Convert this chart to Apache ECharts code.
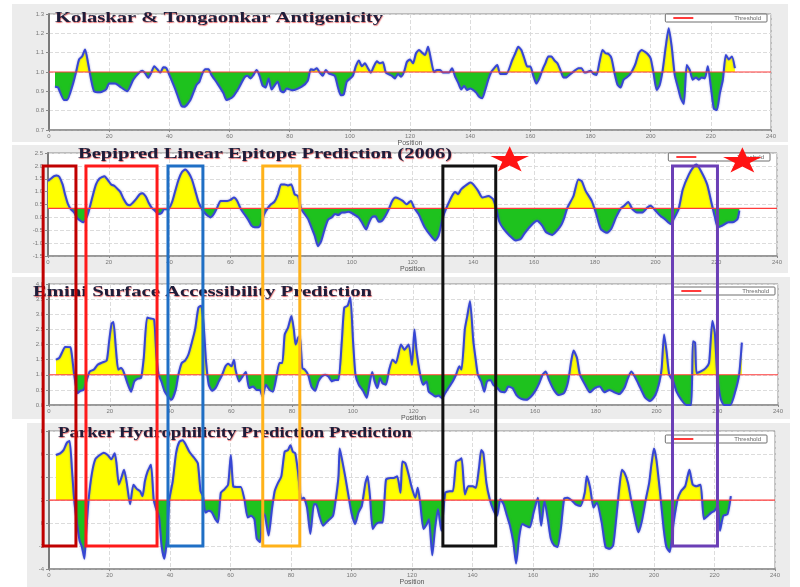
<!DOCTYPE html>
<html lang="en">
<head>
    <meta charset="UTF-8">
    <title>Epitope prediction profiles</title>
    <script src="https://cdn.jsdelivr.net/npm/echarts@6/dist/echarts.min.js"></script>
    <style>
        html, body { margin: 0; padding: 0; background: #fff; }
        #main { width: 800px; height: 587px; }
    </style>
</head>
<body>
<div id="main"></div>
<script>
    // values, [position, score]
    var kolaskarPoints = [[2,0.924],[3,0.92],[5,0.855],[6,0.855],[8,0.94],[9,1.0],[10,1.065],[11,1.08],[12,1.117],[13,1.045],[14,0.96],[15,0.9],[17,0.895],[19,0.91],[20,0.94],[22,0.94],[24,0.92],[26,0.9],[28,0.96],[30,0.997],[31,1.007],[32,0.993],[33,0.97],[34,0.997],[35,1.03],[36,1.014],[37,0.997],[38,1.024],[39,1.02],[40,0.985],[42,0.91],[44,0.825],[45,0.82],[47,0.855],[49,0.933],[50,0.95],[51,0.993],[52,1.014],[53,1.014],[54,0.985],[56,0.94],[58,0.89],[59,0.855],[61,0.87],[63,0.915],[65,0.972],[66,0.98],[67,0.967],[68,0.985],[69,1.01],[70,0.98],[71,0.93],[72,0.92],[73,0.967],[74,0.91],[76,0.95],[77,0.903],[78,0.895],[79,0.915],[81,0.905],[84,0.924],[86,0.955],[87,1.014],[88,1.01],[89,1.02],[90,0.997],[91,0.98],[92,1.01],[93,0.993],[95,0.98],[96,0.924],[97,0.88],[98,0.885],[99,0.95],[101,0.98],[102,1.03],[103,1.06],[104,1.03],[105,1.045],[106,1.02],[107,0.997],[108,1.03],[109,1.055],[110,1.045],[111,1.05],[112,0.997],[114,0.98],[115,0.967],[116,0.99],[117,0.975],[118,1.0],[119,1.053],[120,1.065],[121,1.045],[122,1.097],[123,1.114],[124,1.1],[125,1.088],[126,1.13],[127,1.062],[128,1.0],[129,1.01],[130,1.01],[131,0.997],[133,0.997],[134,1.02],[135,0.976],[136,0.945],[137,0.91],[138,0.927],[139,0.907],[140,0.915],[141,0.907],[142,0.893],[143,0.872],[144,0.864],[145,0.907],[146,0.96],[147,1.0],[148,1.02],[149,1.036],[150,0.99],[152,0.99],[154,1.062],[155,1.097],[156,1.13],[157,1.114],[158,1.07],[159,1.028],[160,1.028],[161,0.98],[162,0.94],[163,0.967],[164,1.01],[165,1.045],[166,1.08],[167,1.08],[168,1.06],[169,1.045],[170,1.01],[171,0.972],[172,0.972],[173,0.985],[174,0.997],[175,1.01],[176,1.02],[177,1.02],[178,0.997],[179,1.0],[180,1.007],[181,0.99],[182,0.985],[183,1.053],[184,1.114],[185,1.097],[186,1.093],[187,1.07],[188,0.993],[189,0.933],[190,0.92],[191,0.96],[192,0.972],[193,0.985],[194,1.01],[195,1.045],[196,1.097],[197,1.114],[198,1.105],[199,1.093],[200,1.07],[201,0.99],[202,0.907],[203,0.933],[204,1.01],[205,1.13],[206,1.226],[207,1.13],[208,0.985],[209,0.924],[210,0.864],[211,0.834],[212,1.036],[213,1.01],[214,0.96],[215,0.972],[216,0.96],[217,0.972],[218,0.967],[219,1.03],[220,0.924],[221,0.81],[222,0.803],[223,0.89],[224,0.96],[225,1.088],[226,1.065],[227,1.08],[228,1.02]];

    var bepipredPoints = [[0,1.41],[0.9,1.5],[2.0,1.6],[2.8,1.63],[3.7,1.58],[4.8,1.28],[5.6,0.9],[6.6,0.51],[7.5,0.32],[8.6,0.19],[9.7,-0.04],[10.9,-0.15],[11.6,-0.19],[12.7,0],[13.6,0.32],[14.7,0.83],[15.8,1.28],[16.9,1.5],[18.6,1.6],[19.7,1.45],[20.8,1.28],[21.9,1.22],[23.0,1.09],[23.8,0.99],[24.9,0.71],[26.0,0.51],[26.9,0.47],[28.0,0.58],[29.1,0.73],[30.2,0.9],[31.1,0.94],[32.2,0.81],[33.1,0.58],[34.1,0.38],[35.2,0.26],[36.3,0.13],[37.4,0.17],[38.2,0.32],[39.6,0.32],[40.8,0.58],[41.9,1.03],[43.0,1.47],[44.1,1.76],[45.2,1.86],[46.3,1.73],[47.4,1.47],[48.5,1.03],[49.6,0.58],[50.7,0.32],[51.5,0.19],[52.6,0.06],[53.5,0],[54.6,0.13],[55.7,0.38],[56.8,0.64],[57.9,0.64],[59.0,0.64],[60.1,0.68],[61.2,0.77],[62.3,0.64],[63.5,0.32],[64.6,0.13],[65.9,-0.09],[67.0,-0.32],[68.1,-0.38],[69.2,-0.38],[70.1,-0.26],[71.2,0.13],[72.3,0.35],[73.4,0.51],[74.5,0.6],[75.6,0.86],[76.7,1.28],[77.9,1.28],[79.0,1.24],[80.1,1.28],[81.2,0.9],[82.3,0.83],[83.4,0.32],[84.5,0.13],[85.6,-0.06],[86.7,-0.38],[87.8,-0.71],[88.9,-1.12],[90.0,-0.9],[91.1,-0.45],[92.2,-0.09],[93.4,0],[94.5,0.13],[95.6,0.09],[96.7,0.19],[97.8,0.19],[98.9,0.22],[100.0,0.17],[101.1,0.09],[102.2,0],[103.3,-0.19],[104.7,-0.47],[105.5,-0.26],[106.6,0],[107.8,0.04],[108.9,-0.17],[110.0,-0.13],[111.1,0.06],[112.2,0.32],[113.3,0.64],[114.4,0.77],[115.5,0.73],[116.8,0.64],[118,0.51],[119,0.6],[119.5,0.64],[120.5,0.38],[122,0.13],[123,-0.13],[124,-0.38],[126,-0.71],[127.5,-0.9],[128.6,-0.71],[130,0],[131,0.32],[133,0.83],[134,0.99],[135,0.9],[136,1.09],[138,1.28],[139,1.35],[140,1.28],[141.6,1.03],[143,0.77],[145,0.83],[146.5,0.71],[147.6,0.32],[148.6,-0.17],[150,-0.45],[152,-0.71],[154,-0.9],[155.7,-0.83],[157,-0.6],[159.5,-0.26],[161,-0.13],[162.7,-0.32],[164,-0.58],[166,-0.68],[167.6,-0.51],[169,-0.29],[170,0],[171,0.38],[173,0.83],[174.6,1.47],[175.7,1.41],[177,1.03],[179,0.64],[180.5,0.13],[182,-0.45],[184,-0.6],[185.4,-0.45],[187,0],[188.6,0.35],[189.7,0.45],[191,0.6],[192.4,0.32],[194,0.19],[195.7,0.19],[197.3,0.38],[198.4,0.45],[200,0.26],[201.6,0.06],[203,-0.06],[205,-0.26],[206,-0.06],[207.6,0.32],[209,1.09],[211,1.67],[212.7,1.99],[213.5,2.05],[215,1.79],[217,1.28],[218.4,0.58],[219.5,0.04],[220.5,-0.38],[222,-0.32],[224,-0.19],[225.4,-0.19],[227,-0.06],[227.6,0.26]];

    var eminiPoints = [[2.3,1.5],[3.4,1.56],[4.5,1.78],[5.3,1.92],[7,1.91],[7.5,1.67],[8.3,1.0],[9.4,0.39],[10.3,0.47],[11.4,0.5],[12.3,0.78],[13.4,1.11],[14.8,1.17],[16,1.33],[17.6,1.41],[19,1.47],[19.8,2.11],[20.6,2.69],[21.2,2.74],[22,1.89],[22.8,1.17],[23.7,1.22],[24.6,1.09],[26,0.67],[27,0.44],[28.1,0.78],[29.2,0.87],[30.3,0.89],[31.2,1.56],[32.3,2.89],[33.4,2.86],[34.6,2.83],[35.3,1.72],[36.1,1.0],[37,0.78],[38.1,0.44],[39.2,0.28],[40.3,0.17],[41.7,0.5],[42.6,1.0],[43.7,1.39],[44.8,1.47],[45.9,1.67],[47,2.06],[48.1,2.5],[49.2,3.22],[50.1,3.28],[50.9,2.67],[51.7,1.44],[52.6,0.67],[53.7,0.47],[54.8,0.56],[55.9,0.78],[57,1.0],[58.1,1.28],[59,1.36],[60.1,1.28],[60.9,1.5],[61.4,1.17],[62.6,0.78],[63.7,0.94],[64.8,1.09],[65.9,0.56],[67.2,0.61],[68.3,0.5],[69.4,0.5],[70.3,0.28],[71.4,0.67],[72.6,0.5],[73.7,0.44],[75,1.0],[75.9,1.39],[76.8,1.39],[77.6,2.33],[78.7,2.56],[79.8,2.94],[80.6,2.5],[81.2,2.0],[82,2.22],[82.6,2.28],[83.4,1.22],[84.2,1.17],[85.3,1.0],[86.4,0.61],[87.6,0.47],[88.7,0.78],[89.8,0.94],[90.9,1.0],[92,0.94],[93.1,0.78],[94.2,0.83],[95.3,0.83],[96.4,2.11],[97.2,3.22],[98.3,3.28],[99.2,3.56],[100.1,2.11],[100.9,1.0],[102,0.67],[103.4,0.47],[104.6,0.24],[105.3,0.56],[106.4,1.09],[107.2,0.78],[108.1,0.56],[109,0.89],[109.8,0.72],[110.9,0.67],[112,1.17],[113.1,1.5],[114.2,1.39],[115.9,2.0],[117,1.83],[118.4,2.0],[119.5,1.33],[120.3,2.5],[121,1.78],[122.2,1.0],[123.2,0.67],[124.3,0.78],[125,0.44],[126.1,0.36],[127.2,0.28],[128.3,0.31],[129.4,0.22],[130.4,0.39],[131.8,0.61],[132.9,0.78],[134,1.0],[135.1,1.28],[135.8,1.17],[136.9,2.5],[137.7,2.94],[138.6,3.44],[139.7,2.11],[140.4,1.56],[141.2,1.0],[142.3,0.78],[143.3,0.44],[144.2,0.78],[145.3,0.83],[146.3,0.67],[147.6,0.56],[148.7,0.44],[150.1,0.42],[151.2,0.61],[152.6,0.56],[153.9,0.33],[155.5,0.2],[157.1,0.17],[158.7,0.28],[160.3,0.5],[161.4,0.72],[162.5,1.0],[163.5,1.11],[164.6,0.83],[166.2,0.5],[167.8,0.33],[169.5,0.39],[170.9,0.78],[171.9,1.44],[172.7,1.8],[173.8,1.56],[174.8,1.0],[176.5,0.67],[178.1,0.42],[179.7,0.56],[181.3,0.61],[182.9,0.42],[184.5,0.5],[186.1,0.42],[187.7,0.36],[189.4,0.56],[190.6,0.89],[191.7,1.11],[193.1,0.89],[194.7,0.56],[196.3,0.24],[197.9,0.13],[199.6,0.33],[201,0.78],[201.7,1.22],[202.5,2.33],[203.3,1.78],[204.2,1.0],[205.5,0.78],[206.6,0.44],[208.2,0.17],[209.8,0.0],[211.4,0.0],[212,2.11],[212.7,2.06],[213.2,1.06],[214.6,1.11],[216.2,1.22],[217.3,1.39],[218.4,2.78],[219.2,2.39],[220,1.0],[221.1,0.22],[222.2,0.0],[224.3,0.0],[225.9,0.44],[227.2,1.0],[228.1,2.06]];

    var parkerPoints = [[2.3,5.91],[3.7,6.06],[4.8,6.34],[5.9,6.97],[6.8,7.14],[7.6,4.63],[8.3,2.06],[9.2,0.06],[10.1,-1.51],[10.9,-2.09],[11.7,-3.09],[12.3,-0.8],[13.1,2.06],[14.2,4.34],[15.3,5.54],[16.8,5.91],[18.1,6.11],[19.4,5.91],[20.6,5.54],[21.7,6.06],[22.3,5.2],[23.1,3.34],[23.9,3.91],[24.8,4.63],[25.7,3.49],[26.8,1.63],[27.9,3.34],[29,2.97],[30.1,2.77],[30.9,2.34],[31.7,3.63],[32.6,4.49],[33.7,5.06],[34.6,2.06],[35.3,1.34],[36.4,0.49],[37.2,-1.94],[38.1,-3.09],[39,-1.37],[39.8,2.06],[40.9,3.63],[42,6.06],[43.1,7.06],[44.2,7.2],[45.3,6.77],[46.4,6.2],[48.1,5.63],[49.2,5.2],[50.1,2.77],[50.9,2.34],[51.7,0.91],[52.8,1.06],[53.9,0.91],[55,0.34],[55.9,0.06],[56.8,2.63],[57.9,2.91],[59.2,3.34],[60.1,5.91],[60.9,3.2],[62,3.14],[63.4,3.14],[64.6,2.06],[65.7,0.49],[66.8,0.63],[67.9,0.34],[68.7,-1.37],[69.8,-1.66],[70.6,0.91],[71.4,0.63],[72.6,-1.09],[73.7,1.2],[74.6,2.77],[75.7,3.49],[76.8,4.06],[77.9,6.2],[79,6.34],[79.8,6.77],[80.6,6.2],[81.4,6.06],[82.3,4.49],[83.4,2.06],[84.2,2.2],[85.3,1.34],[86.4,-0.94],[87.6,1.63],[88.3,1.63],[89.4,0.63],[90.6,-0.23],[91.7,0.06],[92.8,0.34],[93.9,0.63],[94.8,2.06],[95.7,4.06],[96.1,6.49],[97,5.34],[98.1,3.77],[99.2,2.06],[100.1,0.77],[101.2,-0.09],[102.3,0.91],[103.4,1.49],[104.6,3.49],[105.3,4.06],[106.1,2.34],[107,-0.51],[108.1,-0.09],[109.2,0.06],[110.3,0.06],[111.4,3.77],[112.8,3.91],[113.9,3.91],[115.1,4.06],[116.2,2.63],[116.8,5.34],[117.8,5.2],[118.9,4.2],[119.8,3.2],[121.1,2.2],[121.9,3.06],[122.7,1.77],[123.8,-0.51],[124.9,-0.09],[125.6,0.34],[126.7,-2.8],[127.6,-0.51],[128.6,1.2],[129.7,-0.66],[131,2.63],[132.4,2.77],[133.5,2.77],[134.6,5.34],[135.7,5.49],[136.4,5.63],[137.5,2.49],[138.6,3.2],[140,3.2],[141.1,3.06],[142.2,4.91],[142.9,6.34],[143.6,6.06],[144.6,3.49],[145.7,2.06],[146.8,1.2],[148.1,0.63],[149.2,2.06],[150.3,1.63],[151.4,0.63],[152.4,-0.23],[153.5,-1.66],[154.4,-3.51],[155.5,-1.09],[156.5,-0.09],[157.6,-0.23],[158.9,-0.37],[160.2,0.91],[161.6,2.2],[162.7,-0.23],[163.8,1.91],[164.9,0.34],[165.9,-1.37],[167,-1.94],[168.1,-2.09],[169.2,-0.51],[170.3,2.11],[171.4,2.2],[173,1.91],[174.1,1.63],[175.7,1.49],[177.1,2.63],[177.8,4.06],[178.9,3.06],[180,1.34],[181.1,1.77],[182.7,0.06],[184,-2.09],[185.4,-2.23],[186.5,-1.94],[187.6,0.63],[188.6,3.2],[189.4,4.63],[190.3,4.34],[191.4,3.49],[192.4,2.06],[193.5,0.63],[194.8,-0.8],[195.9,0.06],[197.3,2.06],[198.4,3.49],[199.2,5.2],[200,6.49],[200.8,5.49],[201.9,2.91],[203.2,-0.51],[204.1,-2.09],[205.2,-2.51],[206.5,0.06],[207.8,2.06],[208.9,2.77],[210.3,3.2],[211.1,4.06],[211.7,4.63],[212.8,3.34],[214.1,3.2],[215.4,3.34],[216.5,0.34],[217.8,0.63],[218.9,0.91],[220,1.06],[221.1,1.49],[221.8,-0.66],[222.9,0.63],[224.3,0.77],[225.4,2.34]];

    var panelTitles = ['Kolaskar & Tongaonkar Antigenicity', 'Bepipred Linear Epitope Prediction (2006)',
        'Emini Surface Accessibility Prediction', 'Parker Hydrophilicity Prediction Prediction'];
    var thresholds = [1.0, 0.35, 1.0, 2.0];
    var yMins = [0.7, -1.5, 0, -4];
    var yMaxs = [1.3, 2.5, 4, 8];
    var ySteps = [0.1, 0.5, 0.5, 2];
    var yDecimals = [1, 1, 1, 0];
    var positionTicks = [0, 240, 20];   // min, max, step

    // highlighted regions (positions on the Bepipred axis) and the two stars
    var regionSpans = [[-1.6, 9.2], [12.5, 35.9], [39.5, 51], [70.7, 82.9], [130, 147.4], [205.6, 220.4]];
    var regionColors = ['#c00000', '#ff1a1a', '#1f6fc5', '#ffb21a', '#111111', '#6b3fb6'];
    var regionTop = 2.0;      // Bepipred score
    var regionBottom = -2.0;  // Parker score
    var starSpots = [[152, 2.22], [228.6, 2.18]];

    var allPoints = [kolaskarPoints, bepipredPoints, eminiPoints, parkerPoints];

    // layout
    var grids = [
        {left: 49, right: 29, top: 14, height: 116},
        {left: 48, right: 23, top: 153, height: 103},
        {left: 49, right: 22, top: 284, height: 121},
        {left: 49, right: 25, top: 431, height: 141}
    ];
    var panelRects = [[12, 4, 776, 138], [12, 145, 776, 128], [12, 277, 778, 142], [27, 423, 763, 164]];
    var legendPos = [{right: 33, top: 14}, {right: 30, top: 153}, {right: 25, top: 287}, {right: 33, top: 435}];
    var titlePos = [[55, 11, 328], [78, 147, 374], [33, 285, 339], [58, 426, 354]];

    var chart = echarts.init(document.getElementById('main'));

    var option = {
        animation: false,
        backgroundColor: '#ffffff',
        grid: [], xAxis: [], yAxis: [], series: [], legend: [], visualMap: []
    };

    for (var i = 0; i < 4; i++) {
        var span = yMaxs[i] - yMins[i];
        option.grid.push({
            left: grids[i].left, right: grids[i].right, top: grids[i].top, height: grids[i].height,
            show: true, backgroundColor: '#ffffff', borderColor: '#8c8c8c', borderWidth: 1
        });
        option.xAxis.push({
            type: 'value', gridIndex: i,
            min: positionTicks[0], max: positionTicks[1], interval: positionTicks[2],
            name: 'Position', nameLocation: 'middle', nameGap: 8,
            nameTextStyle: {fontSize: 7, color: '#555'},
            axisLine: {show: true, onZero: false, lineStyle: {color: '#8a8a8a', width: 1.5}},
            axisTick: {show: true, length: 2, lineStyle: {color: '#8a8a8a'}},
            axisLabel: {fontSize: 6, color: '#777', margin: 3},
            splitLine: {show: true, lineStyle: {color: '#dcdcdc', type: 'dashed'}}
        });
        (function (dec) {
            option.yAxis.push({
                type: 'value', gridIndex: i,
                min: yMins[i], max: yMaxs[i], interval: ySteps[i],
                axisLine: {show: true, onZero: false, lineStyle: {color: '#7a7a7a', width: 2}},
                axisTick: {show: true, length: 3, lineStyle: {color: '#8a8a8a'}},
                axisLabel: {fontSize: 6, color: '#777', margin: 5, formatter: function (v) { return v.toFixed(dec); }},
                splitLine: {show: true, lineStyle: {color: '#dcdcdc', type: 'dashed'}}
            });
        })(yDecimals[i]);

        option.series.push({
            type: 'line', xAxisIndex: i, yAxisIndex: i,
            data: allPoints[i],
            showSymbol: false, symbol: 'none', smooth: 0.2,
            lineStyle: {color: '#3646d4', width: 2, shadowColor: 'rgba(90,90,190,0.6)', shadowBlur: 2},
            areaStyle: {origin: thresholds[i], opacity: 1},
            z: 3
        });
        option.series.push({
            type: 'line', name: 'Threshold', xAxisIndex: i, yAxisIndex: i,
            data: [[positionTicks[0], thresholds[i]], [positionTicks[1], thresholds[i]]],
            symbol: 'none', color: '#ff3b3b',
            lineStyle: {color: '#ff3b3b', width: 1.2},
            z: 4
        });
        // fill colour switches at the threshold
        option.visualMap.push({
            type: 'piecewise', show: false, seriesIndex: i * 2, dimension: 1,
            pieces: [
                {gte: yMins[i] - span, lt: thresholds[i], color: '#1ec21e'},
                {gte: thresholds[i], lte: yMaxs[i] + span, color: '#ffff00'}
            ],
            outOfRange: {color: '#1ec21e'}
        });
        option.legend.push({
            right: legendPos[i].right, top: legendPos[i].top,
            data: ['Threshold'], selectedMode: false,
            icon: 'rect', itemWidth: 20, itemHeight: 2,
            padding: [1, 6, 1, 8],
            backgroundColor: '#ffffff', borderColor: '#6f6f6f', borderWidth: 1, borderRadius: 1,
            formatter: '{t|Threshold}',
            textStyle: {fontSize: 6, color: '#666', rich: {t: {fontSize: 6, color: '#666', padding: [0, 26, 0, 36]}}}
        });
    }

    chart.setOption(option);

    // overlays: panel backgrounds, titles, boxes, stars
    var gfx = [];
    panelRects.forEach(function (r) {
        gfx.push({type: 'rect', z: -10, shape: {x: r[0], y: r[1], width: r[2], height: r[3]},
            style: {fill: '#ececec'}, silent: true});
    });

    var ctx = document.createElement('canvas').getContext('2d');
    var titleFont = 'bold 14px "Liberation Serif", "DejaVu Serif", serif';
    ctx.font = titleFont;
    panelTitles.forEach(function (t, k) {
        var w = ctx.measureText(t).width;
        gfx.push({
            type: 'text', z: 50, silent: true,
            x: titlePos[k][0], y: titlePos[k][1], scaleX: titlePos[k][2] / w,
            style: {
                text: t, x: 0, y: 0, font: titleFont, fill: '#1d1d3a',
                verticalAlign: 'top',
                textShadowColor: 'rgba(225,20,20,0.6)', textShadowBlur: 1,
                textShadowOffsetX: 0.5, textShadowOffsetY: 1.2
            }
        });
    });

    regionSpans.forEach(function (s, k) {
        var pTop = chart.convertToPixel({gridIndex: 1}, [s[0], regionTop]);
        var pRight = chart.convertToPixel({gridIndex: 1}, [s[1], regionTop]);
        var pBottom = chart.convertToPixel({gridIndex: 3}, [s[0], regionBottom]);
        gfx.push({
            type: 'rect', z: 100, silent: true,
            shape: {x: pTop[0], y: pTop[1], width: pRight[0] - pTop[0], height: pBottom[1] - pTop[1]},
            style: {fill: 'none', stroke: regionColors[k], lineWidth: 3}
        });
    });

    var starShape = [];
    for (var j = 0; j < 10; j++) {
        var ang = -Math.PI / 2 + j * Math.PI / 5;
        var rad = j % 2 === 0 ? 14 : 14 * 0.382;
        starShape.push([rad * Math.cos(ang), rad * Math.sin(ang)]);
    }
    starSpots.forEach(function (s) {
        var p = chart.convertToPixel({gridIndex: 1}, s);
        gfx.push({
            type: 'polygon', z: 110, silent: true,
            x: p[0], y: p[1], scaleX: 1.45,
            shape: {points: starShape},
            style: {fill: '#ff1414'}
        });
    });

    chart.setOption({graphic: gfx});
</script>
</body>
</html>
